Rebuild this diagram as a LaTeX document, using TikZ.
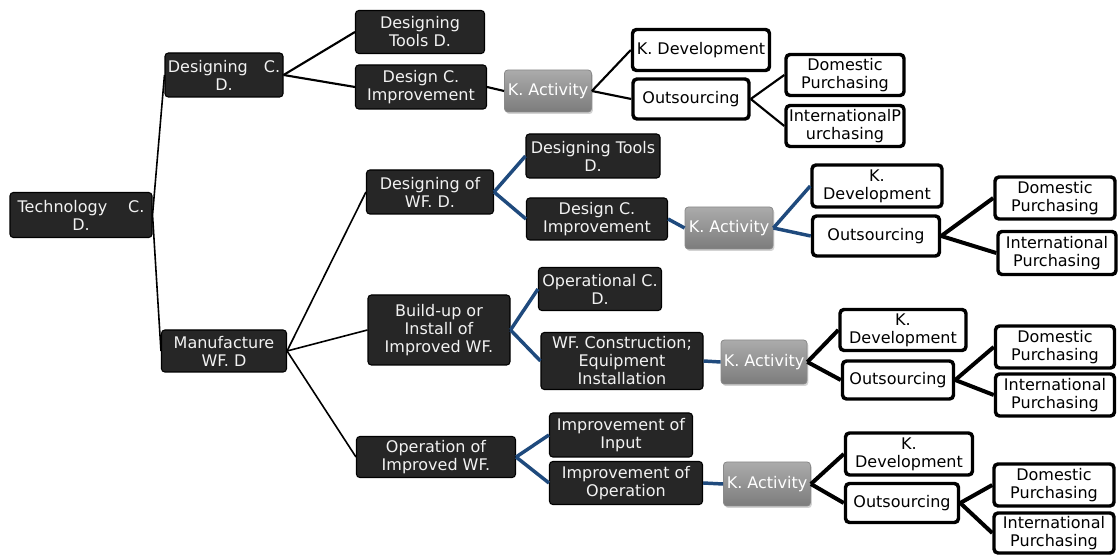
\documentclass[tikz,border=0pt]{standalone}
\usepackage{fontspec}
\setmainfont{DejaVu Sans}
\usetikzlibrary{shadows}
\definecolor{boxdark}{HTML}{262626}
\definecolor{boxtext}{HTML}{F2F2F2}
\definecolor{linkblue}{HTML}{1F4A7D}
\definecolor{acttop}{HTML}{ABABAB}
\definecolor{actbot}{HTML}{7C7C7C}
\definecolor{actedge}{HTML}{8A8A8A}
\newcommand\boxfont{\fontsize{12}{13.5}\selectfont}
\begin{document}
\begin{tikzpicture}[x=0.75pt,y=-0.75pt,
  sz/.style 2 args={minimum width=#1*0.75pt,minimum height=#2*0.75pt},
  darkbox/.style={draw=black,line width=0.8pt,fill=boxdark,text=boxtext,rounded corners=2.5pt,
    align=center,inner sep=1pt,font=\boxfont},
  whitebox/.style={draw=black,line width=2.6pt,fill=white,rounded corners=3pt,
    align=center,inner sep=1pt,font=\boxfont},
  actbox/.style={draw=actedge,line width=0.6pt,top color=acttop,bottom color=actbot,text=white,
    rounded corners=2.5pt,align=center,inner sep=1pt,font=\boxfont,
    drop shadow={opacity=0.35,shadow xshift=1pt,shadow yshift=-1.5pt}},
  trunk/.style={draw=black,line width=1.2pt},
  twig/.style={draw=black,line width=1.6pt},
  blueline/.style={draw=linkblue,line width=2.6pt},
  heavy/.style={draw=black,line width=3pt}]
 \useasboundingbox (0,0) rectangle (1118,555);
 % first levels
 \node[darkbox,sz={142}{45}] (tech) at (81,215) {Technology\hspace{1.3em}C.\\D.};
 \node[darkbox,sz={118}{44}] (desc) at (224,75) {Designing\hspace{1em}C.\\D.};
 \node[darkbox,sz={125}{42}] (manuf) at (224,351) {Manufacture\\WF. D};
 % design branch
 \node[darkbox,sz={129}{43}] (tools1) at (420,32) {Designing\\Tools D.};
 \node[darkbox,sz={131}{44}] (impr1) at (421,87) {Design C.\\Improvement};
 \node[actbox,sz={87}{42}] (kact1) at (548,91) {K. Activity};
 \node[whitebox,sz={137}{41}] (kdev1) at (701,50) {K. Development};
 \node[whitebox,sz={116}{40}] (outs1) at (691,99) {Outsourcing};
 \node[whitebox,sz={118}{41}] (dom1) at (845,75) {Domestic\\Purchasing};
 \node[whitebox,sz={118}{41}] (intl1) at (845,126) {InternationalP\\urchasing};
 % designing of WF
 \node[darkbox,sz={127}{44}] (deswf) at (430,192) {Designing of\\WF. D.};
 \node[darkbox,sz={134}{44}] (tools2) at (593,156) {Designing Tools\\D.};
 \node[darkbox,sz={141}{42}] (impr2) at (597,219) {Design C.\\Improvement};
 \node[actbox,sz={88}{42}] (kact2) at (729,228) {K. Activity};
 \node[whitebox,sz={130}{42}] (kdev2) at (877,186) {K.\\Development};
 \node[whitebox,sz={127}{40}] (outs2) at (876,236) {Outsourcing};
 \node[whitebox,sz={120}{42}] (dom2) at (1055,198) {Domestic\\Purchasing};
 \node[whitebox,sz={118}{43}] (intl2) at (1057,253) {International\\Purchasing};
 % build-up branch
 \node[darkbox,sz={142}{70}] (build) at (439,330) {Build-up or\\Install of\\Improved WF.};
 \node[darkbox,sz={123}{43}] (opc) at (600,289) {Operational C.\\D.};
 \node[darkbox,sz={162}{57}] (wfc) at (622,361) {WF. Construction;\\Equipment\\Installation};
 \node[actbox,sz={86}{44}] (kact3) at (764,362) {K. Activity};
 \node[whitebox,sz={126}{41}] (kdev3) at (903,330) {K.\\Development};
 \node[whitebox,sz={111}{38}] (outs3) at (898,380) {Outsourcing};
 \node[whitebox,sz={119}{42}] (dom3) at (1055,347) {Domestic\\Purchasing};
 \node[whitebox,sz={119}{42}] (intl3) at (1055,395) {International\\Purchasing};
 % operation branch
 \node[darkbox,sz={159}{41}] (oper) at (436,457) {Operation of\\Improved WF.};
 \node[darkbox,sz={143}{44}] (inp) at (621,435) {Improvement of\\Input};
 \node[darkbox,sz={153}{43}] (iop) at (626,483) {Improvement of\\Operation};
 \node[actbox,sz={87}{44}] (kact4) at (767,484) {K. Activity};
 \node[whitebox,sz={127}{42}] (kdev4) at (909,454) {K.\\Development};
 \node[whitebox,sz={113}{39}] (outs4) at (902,503) {Outsourcing};
 \node[whitebox,sz={120}{42}] (dom4) at (1054,485) {Domestic\\Purchasing};
 \node[whitebox,sz={120}{40}] (intl4) at (1054,533) {International\\Purchasing};
 % connectors
 \foreach \a/\b in {tech/desc,tech/manuf,manuf/deswf,manuf/build,manuf/oper}
  \draw[trunk] (\a.east) -- (\b.west);
 \foreach \a/\b in {desc/tools1,desc/impr1,impr1/kact1,kact1/kdev1,kact1/outs1,outs1/dom1,outs1/intl1}
  \draw[twig] (\a.east) -- (\b.west);
 \foreach \a/\b in {deswf/tools2,deswf/impr2,impr2/kact2,kact2/kdev2,kact2/outs2,
   build/opc,build/wfc,wfc/kact3,oper/inp,oper/iop,iop/kact4}
  \draw[blueline] (\a.east) -- (\b.west);
 \foreach \a/\b in {outs2/dom2,outs2/intl2,kact3/kdev3,kact3/outs3,outs3/dom3,outs3/intl3,
   kact4/kdev4,kact4/outs4,outs4/dom4,outs4/intl4}
  \draw[heavy] (\a.east) -- (\b.west);
\end{tikzpicture}
\end{document}
